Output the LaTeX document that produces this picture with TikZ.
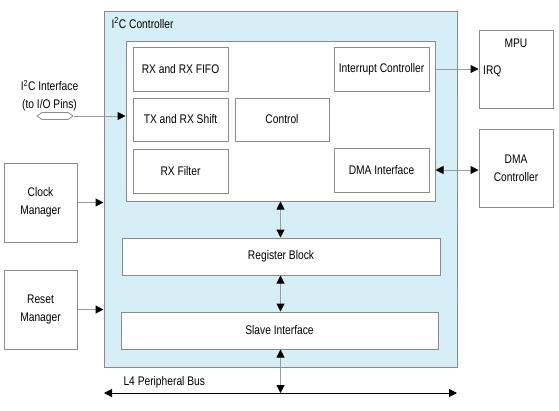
\documentclass[tikz,border=0pt]{standalone}
\usepackage{fontspec}
\setmainfont{Liberation Sans}[FakeStretch=0.82]
\usepackage{tikz}
\usetikzlibrary{arrows.meta,shapes.symbols}
\usepackage{xcolor}
\definecolor{ctrlfill}{HTML}{D6EEF5}
\definecolor{boxline}{HTML}{8A8A8A}
\definecolor{wireline}{HTML}{9A9A9A}

\begin{document}
\begin{tikzpicture}[x=1pt, y=-1pt,
    font=\fontsize{12.5}{18}\selectfont,
    blk/.style={draw=boxline, line width=1pt, fill=white, align=center, inner sep=0pt},
    wire/.style={draw=wireline, line width=1pt, -{Triangle[length=8pt, width=8pt, color=black]}},
    dwire/.style={draw=wireline, line width=1pt, {Triangle[length=8pt, width=8pt, color=black]}-{Triangle[length=8pt, width=8pt, color=black]}}]
    \useasboundingbox (0,0) rectangle (559,410);

    % Controller frame
    \node[blk, fill=ctrlfill, minimum width=353pt, minimum height=356pt] (ctrl) at (280.5,189) {};
    \node[anchor=west] (title) at (108,23) {I\textsuperscript{2}C Controller};
    \node[blk, minimum width=309pt, minimum height=160pt] (core) at (280.5,121) {};

    % Inner blocks
    \node[blk, minimum width=95pt, minimum height=44pt] (fifo) at (180.5,69) {RX and RX FIFO};
    \node[blk, minimum width=95pt, minimum height=43pt] (shift) at (180.5,119.5) {TX and RX Shift};
    \node[blk, minimum width=95pt, minimum height=44pt] (filter) at (180.5,171) {RX Filter};
    \node[blk, minimum width=94pt, minimum height=43pt] (control) at (282,119.5) {Control};
    \node[blk, minimum width=95pt, minimum height=44pt] (intr) at (381.5,69) {Interrupt Controller};
    \node[blk, minimum width=95pt, minimum height=44pt] (dmaif) at (381.5,170) {DMA Interface};
    \node[blk, minimum width=318pt, minimum height=37pt] (regblk) at (281,256.5) {Register Block};
    \node[blk, minimum width=317pt, minimum height=37pt] (slave) at (279.5,330.5) {Slave Interface};

    % Outside blocks
    \node[blk, minimum width=74pt, minimum height=78pt] (mpu) at (516,69) {};
    \node (mpulbl) at (516,43) {MPU};
    \node[anchor=west, inner sep=2pt] (irq) at (481,71) {IRQ};
    \node[blk, minimum width=74pt, minimum height=78pt] (dmac) at (516,168) {DMA\\Controller};
    \node[blk, minimum width=73pt, minimum height=79pt] (clk) at (40.5,202.5) {Clock\\Manager};
    \node[blk, minimum width=73pt, minimum height=79pt] (rst) at (40.5,309.5) {Reset\\Manager};

    % Pins and bus
    \node[signal, signal to=east and west, signal pointer angle=70, draw=boxline, fill=white,
          line width=0.8pt, minimum width=36pt, minimum height=7pt, inner sep=0pt] (pin) at (55,116) {};
    \node[align=center] (pinlbl) at (49.5,95.5) {I\textsuperscript{2}C Interface\\(to I/O Pins)};
    \coordinate (busL) at (104,393);
    \coordinate (busR) at (457,393);
    \node[anchor=west] (buslbl) at (120,382) {L4 Peripheral Bus};

    % Connections
    \draw[wire] (pin.east) -- (pin.east -| core.west);
    \draw[wire] (intr.east -| core.east) -- (intr.east -| mpu.west);
    \draw[dwire] (dmaif.east -| core.east) -- (dmaif.east -| dmac.west);
    \draw[wire] (clk.east) -- (clk.east -| ctrl.west);
    \draw[wire] (rst.east) -- (rst.east -| ctrl.west);
    \draw[dwire] (core.south) -- (core.south |- regblk.north);
    \draw[dwire] (regblk.south -| core.south) -- (core.south |- slave.north);
    \draw[dwire] (slave.south -| core.south) -- (core.south |- busL);
    \draw[dwire, draw=black] (busL) -- (busR);
\end{tikzpicture}
\end{document}
